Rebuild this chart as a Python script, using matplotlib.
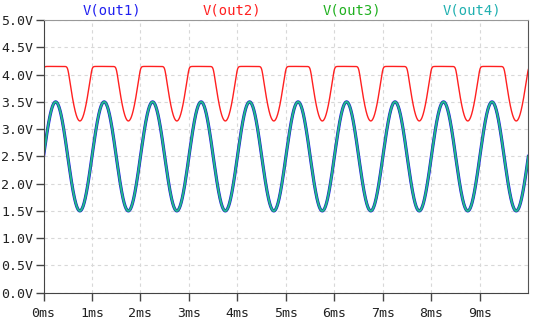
import numpy as np
import matplotlib
matplotlib.use("Agg")
import matplotlib.pyplot as plt

# simulation source settings
t_stop_ms = 10.0
sine_offset = 2.5      # V
sine_amplitude = 1.0   # V
sine_freq_khz = 1.0
out2_shift = 1.65      # V, out2 follows the input shifted up ...
out2_clip = 4.15       # V ... and clips softly here
clip_knee = 0.08

y_ticks = [0.0, 0.5, 1.0, 1.5, 2.0, 2.5, 3.0, 3.5, 4.0, 4.5, 5.0]
x_ticks = [0, 1, 2, 3, 4, 5, 6, 7, 8, 9]
names = ["V(out1)", "V(out2)", "V(out3)", "V(out4)"]
colors = ["#2020f0", "#ff2020", "#20b020", "#20b0b0"]

t = np.linspace(0, t_stop_ms, 4001)
v_in = sine_offset + sine_amplitude * np.sin(2 * np.pi * sine_freq_khz * t)
a = v_in + out2_shift
v_out2 = -clip_knee * np.logaddexp(-a / clip_knee, -out2_clip / clip_knee)

plt.rcParams['font.family'] = ['DejaVu Sans Mono']

fig = plt.figure(figsize=(5.46, 3.23), dpi=100)
ax = fig.add_axes([0.0797, 0.0938, 0.888, 0.844])

# out1, out3 and out4 lie on top of each other
ax.plot(t, v_in, color=colors[0], lw=2.3)
ax.plot(t, v_in, color=colors[2], lw=1.5)
ax.plot(t, v_in, color=colors[3], lw=1.0)
ax.plot(t, v_out2, color=colors[1], lw=1.0)

ax.set_xlim(0, t_stop_ms)
ax.set_ylim(0, 5.0)
ax.set_xticks(x_ticks)
ax.set_xticklabels([f"{x}ms" for x in x_ticks])
ax.set_yticks(y_ticks)
ax.set_yticklabels([f"{y:.1f}V" for y in y_ticks])
ax.tick_params(direction='out', length=6, width=1.0, color='#444444',
               labelsize=9.5, labelcolor='#222222', pad=1.5)
ax.tick_params(axis='x', pad=4)
ax.grid(True, color='#d8d8d8', linestyle=(0, (3, 3)), lw=0.8)

ax.spines['left'].set_color('#444444')
ax.spines['bottom'].set_color('#444444')
ax.spines['top'].set_color('#999999')
ax.spines['right'].set_color('#555555')

for i, (name, c) in enumerate(zip(names, colors)):
    fig.text((112 + 120 * i) / 546, 1 - 11 / 323, name, color=c,
             fontsize=10, ha='center', va='center')

fig.savefig("out.png", dpi=100)
